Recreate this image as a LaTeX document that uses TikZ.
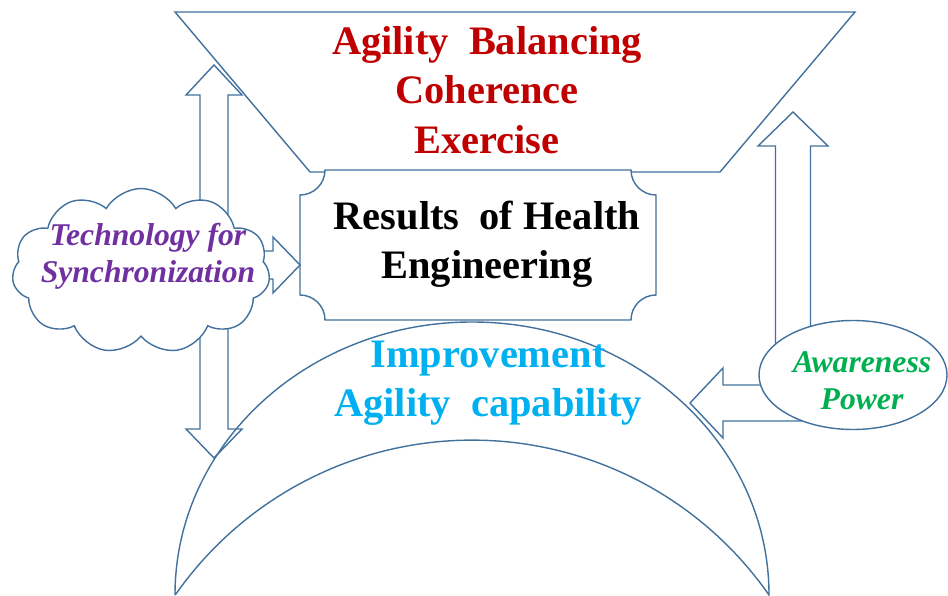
\documentclass[tikz,border=0pt]{standalone}
\usepackage{fontspec}
\setmainfont{Liberation Serif}
\usetikzlibrary{
    calc,
    shapes.geometric,
    shapes.symbols
}
\definecolor{shapeblue}{RGB}{65,113,156}
\definecolor{agilityred}{RGB}{192,0,0}
\definecolor{techpurple}{RGB}{112,48,160}
\definecolor{improveblue}{RGB}{0,176,240}
\definecolor{awaregreen}{RGB}{0,176,80}

\begin{document}
\begin{tikzpicture}[
        x=0.2mm, y=0.2mm,
        outline/.style={draw=shapeblue, line width=0.8pt},
        big label/.style={font=\fontsize{23}{28}\selectfont\bfseries, align=center, inner sep=0pt},
        small label/.style={font=\fontsize{18}{21}\selectfont\bfseries\itshape, align=center, inner sep=0pt}
    ]
    \useasboundingbox (0,0) rectangle (948,595);

    % funnel on top
    \coordinate (fa) at (175,583);
    \coordinate (fb) at (855,583);
    \coordinate (fc) at (720,423);
    \coordinate (fd) at (310,423);
    \draw[outline, fill=white] (fa) -- (fb) -- (fc) -- (fd) -- cycle;

    % plaque with cut corners
    \draw[outline, fill=white] (325,425) -- (631,425)
        arc[start angle=180, end angle=270, radius=25] -- (656,300)
        arc[start angle=90, end angle=180, radius=25] -- (325,275)
        arc[start angle=0, end angle=90, radius=25] -- (300,400)
        arc[start angle=270, end angle=360, radius=25] -- cycle;

    % moon at the bottom
    \draw[outline] (175,0) arc[start angle=180, end angle=0, x radius=297, y radius=273]
        arc[start angle=34.9, end angle=145.1, radius=362];

    % block arrows
    \coordinate (upTip) at (793,483);
    \coordinate (leftTip) at (690,192);
    \coordinate (rightTip) at (300,330);
    \coordinate (vertTip) at (214,530);
    \draw[outline] (upTip) -- ++(35,-34) -- ++(-17.5,0) -- ++(0,-229) -- ++(-35,0)
        -- ++(0,229) -- ++(-17.5,0) -- cycle;
    \draw[outline] (leftTip) -- ++(33,35) -- ++(0,-17) -- ++(130,0) -- ++(0,-36)
        -- ++(-130,0) -- ++(0,-17) -- cycle;
    \draw[outline] (rightTip) -- ++(-27,28) -- ++(0,-14) -- ++(-40,0) -- ++(0,-28)
        -- ++(40,0) -- ++(0,-14) -- cycle;
    \draw[outline] (vertTip) -- ++(28,-30) -- ++(-14,0) -- ++(0,-334) -- ++(14,0)
        -- ++(-28,-29) -- ++(-28,29) -- ++(14,0) -- ++(0,334) -- ++(-14,0) -- cycle;

    % cloud and ellipse
    \node[outline, fill=white, cloud, cloud puffs=11, cloud puff arc=120, aspect=1.6,
        minimum width=51.6mm, minimum height=33mm, inner sep=0pt] (cloud) at (141,324) {};
    \node[outline, fill=white, ellipse, minimum width=37.6mm, minimum height=21.8mm,
        inner sep=0pt] (aware) at (853,220) {};

    % labels
    \node[big label, agilityred] (agility) at (487,505) {Agility~~Balancing\\Coherence\\Exercise};
    \node[big label] (results) at (487,351) {Results~~of Health\\Engineering};
    \node[big label, improveblue] (improve) at (488,212) {Improvement\\Agility~~capability};
    \node[small label, techpurple] (tech) at (148,339) {Technology for\\Synchronization};
    \node[small label, awaregreen] (awareText) at (862,214) {Awareness\\Power};
\end{tikzpicture}
\end{document}
